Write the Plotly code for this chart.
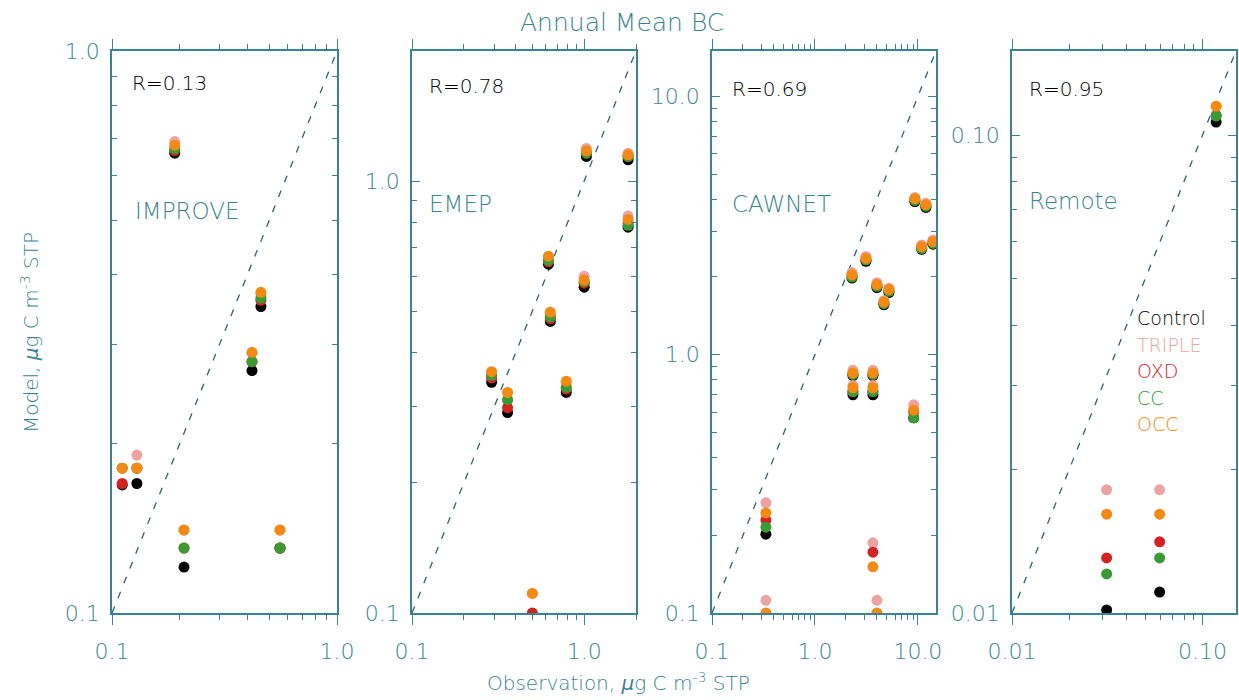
import numpy as np
import plotly.graph_objects as go

W, H = 1239, 700
TEAL = "#3b8393"
DASH = "#2d6272"
FONT = "DejaVu Sans"

scenarios = ["Control", "TRIPLE", "OXD", "CC", "OCC"]
colors = {"Control": "#000000", "TRIPLE": "#eba3a3", "OXD": "#d42222",
          "CC": "#3a9a36", "OCC": "#f28a14"}

# ---- IMPROVE ----
improve_obs = [0.111, 0.129, 0.190, 0.209, 0.419, 0.459, 0.558]
improve_model = {
    "Control": [0.169, 0.170, 0.658, 0.1207, 0.270, 0.351, 0.1305],
    "TRIPLE":  [0.181, 0.191, 0.690, 0.1405, 0.290, 0.370, 0.1405],
    "OXD":     [0.170, 0.181, 0.665, 0.1305, 0.280, 0.360, 0.1305],
    "CC":      [0.181, 0.181, 0.670, 0.1305, 0.280, 0.3635, 0.1305],
    "OCC":     [0.181, 0.181, 0.680, 0.1405, 0.291, 0.372, 0.1405],
}

# ---- EMEP ----
emep_obs = [0.290, 0.359, 0.500, 0.620, 0.636, 0.787, 1.00, 1.03, 1.80, 1.80]
emep_model = {
    "Control": [0.342, 0.291, 0.090, 0.642, 0.473, 0.324, 0.568, 1.14, 1.12, 0.782],
    "TRIPLE":  [0.360, 0.310, 0.111, 0.665, 0.490, 0.340, 0.602, 1.19, 1.16, 0.830],
    "OXD":     [0.350, 0.299, 0.100, 0.650, 0.480, 0.330, 0.580, 1.16, 1.14, 0.800],
    "CC":      [0.355, 0.312, 0.090, 0.655, 0.485, 0.333, 0.585, 1.16, 1.14, 0.790],
    "OCC":     [0.362, 0.324, 0.111, 0.670, 0.497, 0.344, 0.590, 1.175, 1.15, 0.815],
}

# ---- CAWNET ----
cawnet_obs = [0.334, 0.334, 2.29, 2.34, 2.34, 3.13, 3.66, 3.66, 3.66, 4.00,
              4.00, 5.23, 4.68, 9.10, 9.35, 11.97, 10.9, 14.0]
cawnet_model = {
    "Control": [0.202, 0.080, 1.98, 0.83, 0.70, 2.30, 0.090, 0.83, 0.70, 0.080,
                1.82, 1.74, 1.56, 0.570, 3.92, 3.72, 2.56, 2.68],
    "TRIPLE":  [0.267, 0.112, 2.08, 0.87, 0.76, 2.40, 0.187, 0.87, 0.76, 0.112,
                1.90, 1.81, 1.62, 0.640, 4.06, 3.86, 2.66, 2.78],
    "OXD":     [0.229, 0.090, 2.02, 0.84, 0.72, 2.33, 0.172, 0.84, 0.72, 0.090,
                1.85, 1.77, 1.58, 0.600, 3.98, 3.78, 2.60, 2.72],
    "CC":      [0.215, 0.080, 2.00, 0.84, 0.72, 2.33, 0.090, 0.84, 0.72, 0.080,
                1.84, 1.76, 1.58, 0.570, 3.96, 3.76, 2.58, 2.70],
    "OCC":     [0.244, 0.100, 2.04, 0.85, 0.745, 2.36, 0.151, 0.85, 0.745, 0.100,
                1.87, 1.79, 1.60, 0.610, 4.02, 3.81, 2.62, 2.74],
}

# ---- Remote ----
remote_obs = [0.0314, 0.0596, 0.118]
remote_model = {
    "Control": [0.01015, 0.01106, 0.1065],
    "TRIPLE":  [0.0181, 0.0181, 0.115],
    "OXD":     [0.01304, 0.01409, 0.1100],
    "CC":      [0.01207, 0.01304, 0.1096],
    "OCC":     [0.0161, 0.0161, 0.115],
}

panels = [
    dict(name="IMPROVE", r="R=0.13", obs=improve_obs, model=improve_model,
         lo=0.1, hi=1.0, ticks=[0.1, 1.0], labels=["0.1", "1.0"],
         minor=[0.2, 0.3, 0.4, 0.5, 0.6, 0.7, 0.8, 0.9],
         px=(112, 337), rpos=(130, 83), npos=(133, 211)),
    dict(name="EMEP", r="R=0.78", obs=emep_obs, model=emep_model,
         lo=0.1, hi=2.0, ticks=[0.1, 1.0], labels=["0.1", "1.0"],
         minor=[0.2, 0.3, 0.4, 0.5, 0.6, 0.7, 0.8, 0.9, 2.0],
         px=(412, 636), rpos=(427, 86), npos=(427, 204)),
    dict(name="CAWNET", r="R=0.69", obs=cawnet_obs, model=cawnet_model,
         lo=0.1, hi=15.0, ticks=[0.1, 1.0, 10.0], labels=["0.1", "1.0", "10.0"],
         minor=[0.2, 0.3, 0.4, 0.5, 0.6, 0.7, 0.8, 0.9,
                2, 3, 4, 5, 6, 7, 8, 9],
         px=(712, 936), rpos=(730, 89), npos=(730, 204)),
    dict(name="Remote", r="R=0.95", obs=remote_obs, model=remote_model,
         lo=0.01, hi=0.15, ticks=[0.01, 0.1], labels=["0.01", "0.10"],
         minor=[0.02, 0.03, 0.04, 0.05, 0.06, 0.07, 0.08, 0.09],
         px=(1012, 1236), rpos=(1027, 89), npos=(1027, 201)),
]

Y_TOP, Y_BOT = 51, 613
fig = go.Figure()
annotations = []
layout = {}

for i, p in enumerate(panels):
    k = "" if i == 0 else str(i + 1)
    xa, ya = "x" + k, "y" + k
    lo, hi = p["lo"], p["hi"]

    # 1:1 reference line spanning the axis range
    fig.add_trace(go.Scatter(x=[lo, hi], y=[lo, hi], xaxis=xa, yaxis=ya,
                             mode="lines", showlegend=False, hoverinfo="skip",
                             line=dict(color=DASH, width=1.3, dash="7px,9px")))

    for s in scenarios:
        fig.add_trace(go.Scatter(x=p["obs"], y=p["model"][s], xaxis=xa, yaxis=ya,
                                 mode="markers", name=s, showlegend=False,
                                 marker=dict(color=colors[s], size=11, symbol="circle",
                                             line=dict(width=0)),
                                 cliponaxis=True))

    common = dict(type="log", range=[np.log10(lo), np.log10(hi)],
                  automargin=False,
                  showgrid=False, zeroline=False, showline=True,
                  linecolor=TEAL, linewidth=1.5, mirror="ticks",
                  tickmode="array", tickvals=p["ticks"], ticktext=p["labels"],
                  tickcolor=TEAL, tickwidth=1.3,
                  tickfont=dict(family=FONT, size=22, color=TEAL, weight=200))
    layout["xaxis" + k] = dict(
        common, domain=[p["px"][0] / W, p["px"][1] / W], anchor=ya,
        ticks="outside", ticklen=10, ticklabelstandoff=8,
        minor=dict(tickmode="array", tickvals=p["minor"], ticks="outside",
                   ticklen=5, tickcolor=TEAL, tickwidth=1.2, showgrid=False))
    layout["yaxis" + k] = dict(
        common, domain=[1 - Y_BOT / H, 1 - Y_TOP / H], anchor=xa,
        ticks="inside", ticklen=8, ticklabelstandoff=6,
        minor=dict(tickmode="array", tickvals=p["minor"], ticks="inside",
                   ticklen=5, tickcolor=TEAL, tickwidth=1.2, showgrid=False))

    annotations.append(dict(x=p["rpos"][0] / W, y=1 - p["rpos"][1] / H,
                            xref="paper", yref="paper", text=p["r"],
                            showarrow=False, xanchor="left", yanchor="middle",
                            font=dict(family=FONT, size=20, color="#000000", weight=200)))
    annotations.append(dict(x=p["npos"][0] / W, y=1 - p["npos"][1] / H,
                            xref="paper", yref="paper", text=p["name"],
                            showarrow=False, xanchor="left", yanchor="middle",
                            font=dict(family=FONT, size=23, color=TEAL, weight=200)))

# scenario key inside the Remote panel
for j, s in enumerate(scenarios):
    annotations.append(dict(x=1135 / W, y=1 - (318 + 26.5 * j) / H,
                            xref="paper", yref="paper", text=s,
                            showarrow=False, xanchor="left", yanchor="middle",
                            font=dict(family=FONT, size=19, color=colors[s], weight=200)))

annotations.append(dict(x=622 / W, y=1 - 22 / H, xref="paper", yref="paper",
                        text="Annual Mean BC", showarrow=False,
                        xanchor="center", yanchor="middle",
                        font=dict(family=FONT, size=25, color=TEAL, weight=200)))
annotations.append(dict(x=618 / W, y=1 - 682 / H, xref="paper", yref="paper",
                        text="Observation, <i>μ</i>g C m<sup>-3</sup> STP",
                        showarrow=False, xanchor="center", yanchor="middle",
                        font=dict(family=FONT, size=20, color=TEAL, weight=200)))
annotations.append(dict(x=30 / W, y=1 - 333 / H, xref="paper", yref="paper",
                        text="Model, <i>μ</i>g C m<sup>-3</sup> STP", textangle=-90,
                        showarrow=False, xanchor="center", yanchor="middle",
                        font=dict(family=FONT, size=20, color=TEAL, weight=200)))

fig.update_layout(width=W, height=H, margin=dict(l=0, r=0, t=0, b=0),
                  paper_bgcolor="white", plot_bgcolor="white",
                  showlegend=False, annotations=annotations, **layout)

fig.write_html("out.html")
